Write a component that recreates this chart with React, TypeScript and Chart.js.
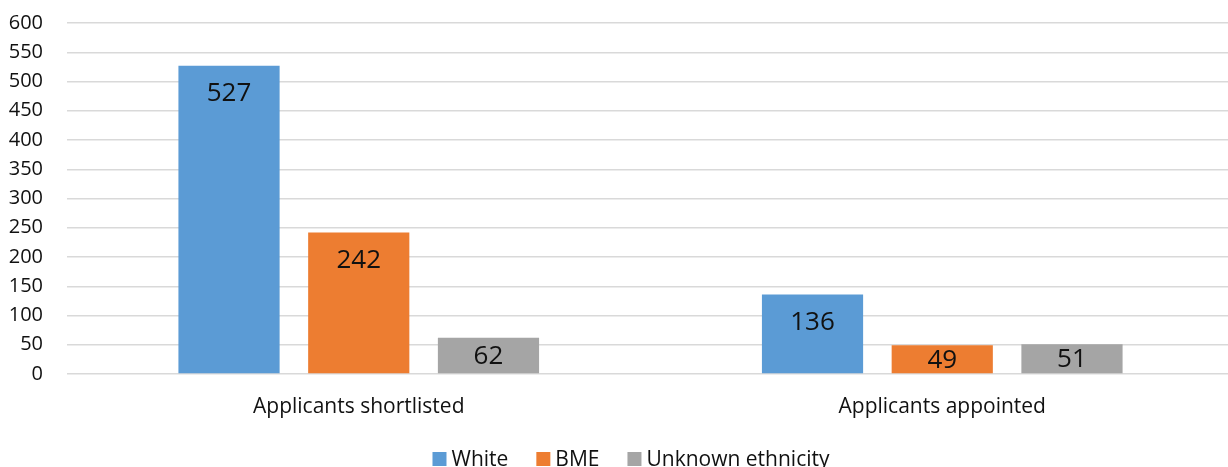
import React, { useEffect, useRef } from "react";
import { Chart, registerables } from "chart.js";

Chart.register(...registerables);

const categories = ["Applicants shortlisted", "Applicants appointed"];
const seriesNames = ["White", "BME", "Unknown ethnicity"];
const whiteValues = [527, 136];
const bmeValues = [242, 49];
const unknownValues = [62, 51];
const seriesColors = ["#5b9bd5", "#ed7d31", "#a5a5a5"];
const yMin = 0;
const yMax = 600;
const yStep = 50;

const FONT = "'Open Sans', 'DejaVu Sans', sans-serif";
const TEXT_COLOR = "#111";

// Writes each bar's value inside the top end of the bar; short bars get it centred.
const barValueLabels = {
  id: "barValueLabels",
  afterDatasetsDraw(chart: any) {
    const ctx = chart.ctx;
    ctx.save();
    ctx.font = `26px ${FONT}`;
    ctx.fillStyle = TEXT_COLOR;
    ctx.textAlign = "center";
    ctx.textBaseline = "middle";
    chart.data.datasets.forEach((ds: any, i: number) => {
      const meta = chart.getDatasetMeta(i);
      meta.data.forEach((bar: any, j: number) => {
        const y = Math.min(bar.y + 27, (bar.y + bar.base) / 2);
        ctx.fillText(String(ds.data[j]), bar.x, y + 1);
      });
    });
    ctx.restore();
  },
};

// Legend row under the axis: square swatch followed by the series name.
const bottomLegend = {
  id: "bottomLegend",
  afterDraw(chart: any) {
    const ctx = chart.ctx;
    const box = 14;
    const textGap = 5;
    const itemGap = 28;
    const centerX = 631;
    const centerY = 459;
    ctx.save();
    ctx.font = `21px ${FONT}`;
    ctx.textBaseline = "middle";
    ctx.textAlign = "left";
    const items = chart.data.datasets.map((ds: any) => ({
      label: ds.label,
      color: ds.backgroundColor,
      w: ctx.measureText(ds.label).width,
    }));
    const total =
      items.reduce((s: number, it: any) => s + box + textGap + it.w, 0) +
      itemGap * (items.length - 1);
    let x = centerX - total / 2;
    items.forEach((it: any) => {
      ctx.fillStyle = it.color;
      ctx.fillRect(x, centerY - box / 2, box, box);
      ctx.fillStyle = TEXT_COLOR;
      ctx.fillText(it.label, x + box + textGap, centerY + 1);
      x += box + textGap + it.w + itemGap;
    });
    ctx.restore();
  },
};

export default function App() {
  const canvasRef = useRef<HTMLCanvasElement | null>(null);

  useEffect(() => {
    document.body.style.margin = "0";
    document.body.style.overflow = "hidden";
    const canvas = canvasRef.current;
    if (!canvas) return;
    const valueSets = [whiteValues, bmeValues, unknownValues];
    const chart = new Chart(canvas, {
      type: "bar",
      data: {
        labels: categories,
        datasets: seriesNames.map((name, i) => ({
          label: name,
          data: valueSets[i],
          backgroundColor: seriesColors[i],
          borderWidth: 0,
          categoryPercentage: 0.667,
          barPercentage: 0.78,
        })),
      },
      options: {
        responsive: false,
        animation: false,
        devicePixelRatio: 1,
        layout: { padding: { top: 23, left: 0, right: 0, bottom: 49 } },
        plugins: {
          tooltip: { enabled: false },
          legend: { display: false },
        },
        scales: {
          x: {
            grid: { display: false, drawTicks: false },
            border: { display: false },
            ticks: {
              color: TEXT_COLOR,
              padding: 20,
              font: { family: FONT, size: 21 },
            },
            afterFit(scale: any) {
              scale.height = 44;
              scale.paddingLeft = 0;
              scale.paddingRight = 0;
            },
          },
          y: {
            min: yMin,
            max: yMax,
            grid: { color: "#d9d9d9", lineWidth: 1.5, drawTicks: false },
            border: { display: false },
            ticks: {
              stepSize: yStep,
              color: TEXT_COLOR,
              padding: 24,
              font: { family: FONT, size: 20 },
            },
            afterFit(scale: any) {
              scale.width = 67;
              scale.paddingTop = 0;
              scale.paddingBottom = 0;
            },
          },
        },
      },
      plugins: [barValueLabels, bottomLegend],
    });
    return () => chart.destroy();
  }, []);

  return (
    <div style={{ width: 1228, height: 467, overflow: "hidden" }}>
      <canvas ref={canvasRef} width={1234} height={467} />
    </div>
  );
}
